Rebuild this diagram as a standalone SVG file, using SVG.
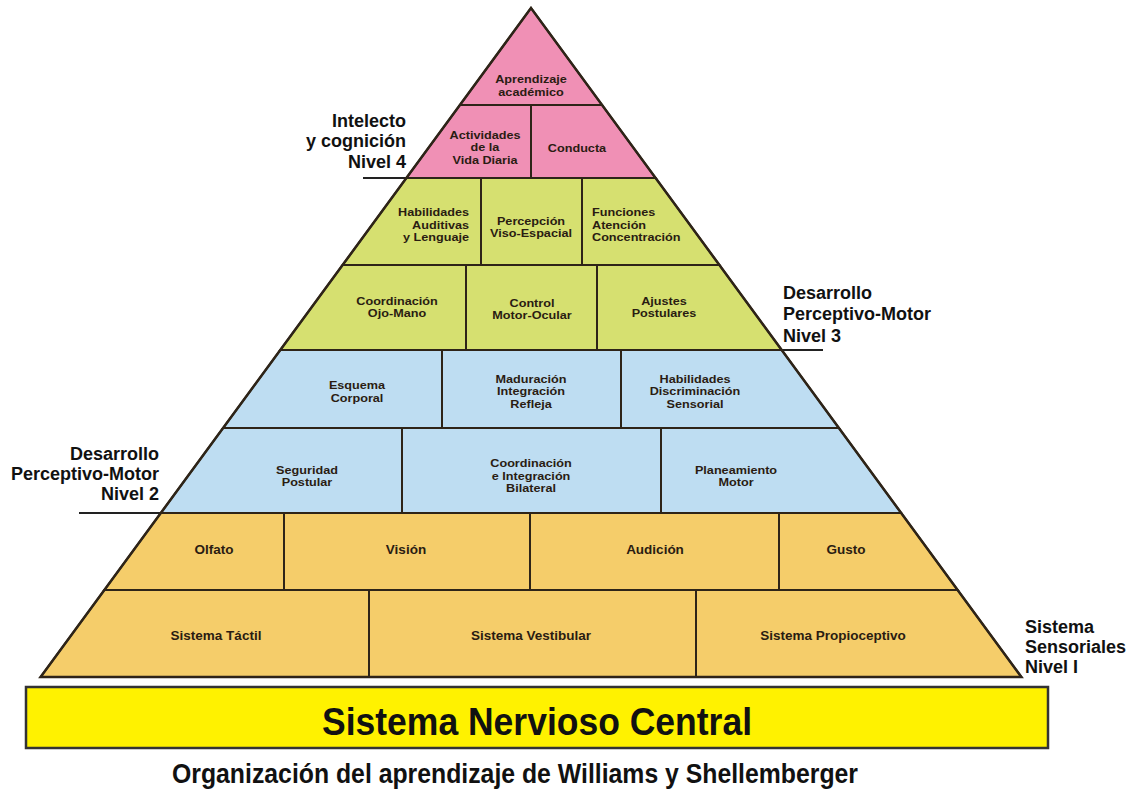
<svg xmlns="http://www.w3.org/2000/svg" width="1129" height="792" viewBox="0 0 1129 792">
<style>
.c{stroke:#2e2418;stroke-width:2;stroke-linejoin:miter}
.pk{fill:#F090B5}
.gr{fill:#D6E070}
.bl{fill:#BEDDF2}
.or{fill:#F5CD6A}
.t{font-family:"Liberation Sans",Arial,sans-serif;font-weight:bold;font-size:11px;fill:#2a1c12;text-anchor:middle}
.t1{font-size:12.5px}
.tb{font-size:13.5px}
.e{text-anchor:end}
.st{text-anchor:start}
.s{font-family:"Liberation Sans",Arial,sans-serif;font-weight:bold;font-size:18px;fill:#111}
.ul{stroke:#222;stroke-width:2}
</style>
<rect width="1129" height="792" fill="#ffffff"/>
<g id="connectors">
<line class="ul" x1="363" y1="178" x2="407" y2="178"/>
<line class="ul" x1="781" y1="350" x2="823" y2="350"/>
<line class="ul" x1="79" y1="513" x2="161" y2="513"/>
</g>
<g id="r1">
<polygon class="c pk" points="531,8 460,105 602,105"/>
<text class="t" transform="translate(531 0) scale(1.15 1)"><tspan x="0" y="83">Aprendizaje</tspan><tspan x="0" y="96">académico</tspan></text>
</g>
<g id="r2a">
<polygon class="c pk" points="460,105 531,105 531,178 406.4,178"/>
<text class="t" transform="translate(485 0) scale(1.15 1)"><tspan x="0" y="139">Actividades</tspan><tspan x="0" y="151.5">de la</tspan><tspan x="0" y="164">Vida Diaria</tspan></text>
</g>
<g id="r2b">
<polygon class="c pk" points="531,105 602,105 655.6,178 531,178"/>
<text class="t" transform="translate(577 0) scale(1.15 1)"><tspan x="0" y="152">Conducta</tspan></text>
</g>
<g id="r3a">
<polygon class="c gr" points="406.4,178 481,178 481,265 342.6,265"/>
<text class="t e" transform="translate(469 0) scale(1.15 1)"><tspan x="0" y="216.5">Habilidades</tspan><tspan x="0" y="229">Auditivas</tspan><tspan x="0" y="241.5">y Lenguaje</tspan></text>
</g>
<g id="r3b">
<rect class="c gr" x="481" y="178" width="101" height="87"/>
<text class="t" transform="translate(531 0) scale(1.15 1)"><tspan x="0" y="225">Percepción</tspan><tspan x="0" y="237.5">Viso-Espacial</tspan></text>
</g>
<g id="r3c">
<polygon class="c gr" points="582,178 655.6,178 719.4,265 582,265"/>
<text class="t st" transform="translate(592 0) scale(1.15 1)"><tspan x="0" y="216.5">Funciones</tspan><tspan x="0" y="229">Atención</tspan><tspan x="0" y="241.5">Concentración</tspan></text>
</g>
<g id="r4a">
<polygon class="c gr" points="342.6,265 466,265 466,350 280.3,350"/>
<text class="t" transform="translate(397 0) scale(1.15 1)"><tspan x="0" y="305">Coordinación</tspan><tspan x="0" y="317.5">Ojo-Mano</tspan></text>
</g>
<g id="r4b">
<rect class="c gr" x="466" y="265" width="131" height="85"/>
<text class="t" transform="translate(532 0) scale(1.15 1)"><tspan x="0" y="307">Control</tspan><tspan x="0" y="319.5">Motor-Ocular</tspan></text>
</g>
<g id="r4c">
<polygon class="c gr" points="597,265 719.4,265 781.7,350 597,350"/>
<text class="t" transform="translate(664 0) scale(1.15 1)"><tspan x="0" y="305">Ajustes</tspan><tspan x="0" y="317.5">Postulares</tspan></text>
</g>
<g id="r5a">
<polygon class="c bl" points="280.3,350 442,350 442,428 223.1,428"/>
<text class="t" transform="translate(357 0) scale(1.15 1)"><tspan x="0" y="389.5">Esquema</tspan><tspan x="0" y="402">Corporal</tspan></text>
</g>
<g id="r5b">
<rect class="c bl" x="442" y="350" width="179" height="78"/>
<text class="t" transform="translate(531 0) scale(1.15 1)"><tspan x="0" y="383">Maduración</tspan><tspan x="0" y="395.5">Integración</tspan><tspan x="0" y="408">Refleja</tspan></text>
</g>
<g id="r5c">
<polygon class="c bl" points="621,350 781.7,350 838.9,428 621,428"/>
<text class="t" transform="translate(695 0) scale(1.15 1)"><tspan x="0" y="383">Habilidades</tspan><tspan x="0" y="395.5">Discriminación</tspan><tspan x="0" y="408">Sensorial</tspan></text>
</g>
<g id="r6a">
<polygon class="c bl" points="223.1,428 402,428 402,513 160.8,513"/>
<text class="t" transform="translate(307 0) scale(1.15 1)"><tspan x="0" y="474">Seguridad</tspan><tspan x="0" y="486.5">Postular</tspan></text>
</g>
<g id="r6b">
<rect class="c bl" x="402" y="428" width="259" height="85"/>
<text class="t" transform="translate(531 0) scale(1.15 1)"><tspan x="0" y="467.5">Coordinación</tspan><tspan x="0" y="480">e Integración</tspan><tspan x="0" y="492.5">Bilateral</tspan></text>
</g>
<g id="r6c">
<polygon class="c bl" points="661,428 838.9,428 901.2,513 661,513"/>
<text class="t" transform="translate(736 0) scale(1.15 1)"><tspan x="0" y="474">Planeamiento</tspan><tspan x="0" y="486.5">Motor</tspan></text>
</g>
<g id="r7a">
<polygon class="c or" points="160.8,513 284,513 284,590 104.4,590"/>
<text class="t tb" x="214" y="554">Olfato</text>
</g>
<g id="r7b">
<rect class="c or" x="284" y="513" width="246" height="77"/>
<text class="t tb" x="406" y="554">Visión</text>
</g>
<g id="r7c">
<rect class="c or" x="530" y="513" width="249" height="77"/>
<text class="t tb" x="655" y="554">Audición</text>
</g>
<g id="r7d">
<polygon class="c or" points="779,513 901.2,513 957.6,590 779,590"/>
<text class="t tb" x="846" y="554">Gusto</text>
</g>
<g id="r8a">
<polygon class="c or" points="104.4,590 369,590 369,677 40.6,677"/>
<text class="t tb" x="216" y="640">Sistema Táctil</text>
</g>
<g id="r8b">
<rect class="c or" x="369" y="590" width="327" height="87"/>
<text class="t tb" x="531" y="640">Sistema Vestibular</text>
</g>
<g id="r8c">
<polygon class="c or" points="696,590 957.6,590 1021.4,677 696,677"/>
<text class="t tb" x="833" y="640">Sistema Propioceptivo</text>
</g>
<polygon points="531,8 40.6,677 1021.4,677" fill="none" stroke="#2e2418" stroke-width="2.5" stroke-linejoin="miter"/>
<g id="label-n4">
<text class="s" x="406" y="127" text-anchor="end">Intelecto</text>
<text class="s" x="406" y="147" text-anchor="end">y cognición</text>
<text class="s" x="406" y="168" text-anchor="end">Nivel 4</text>
</g>
<g id="label-n3">
<text class="s" x="783" y="299">Desarrollo</text>
<text class="s" x="783" y="320">Perceptivo-Motor</text>
<text class="s" x="783" y="342">Nivel 3</text>
</g>
<g id="label-n2">
<text class="s" x="159" y="460" text-anchor="end">Desarrollo</text>
<text class="s" x="159" y="480" text-anchor="end">Perceptivo-Motor</text>
<text class="s" x="159" y="500" text-anchor="end">Nivel 2</text>
</g>
<g id="label-n1">
<text class="s" x="1025" y="633">Sistema</text>
<text class="s" x="1025" y="653">Sensoriales</text>
<text class="s" x="1025" y="673">Nivel I</text>
</g>
<g id="snc">
<rect x="26" y="687" width="1022" height="61" fill="#FFF200" stroke="#333" stroke-width="2.5"/>
<text x="322" y="735" font-family="Liberation Sans, Arial, sans-serif" font-weight="bold" font-size="39" fill="#111" textLength="430" lengthAdjust="spacingAndGlyphs">Sistema Nervioso Central</text>
</g>
<g id="caption">
<text x="172" y="783" font-family="Liberation Sans, Arial, sans-serif" font-weight="bold" font-size="27" fill="#111" textLength="686" lengthAdjust="spacingAndGlyphs">Organización del aprendizaje de Williams y Shellemberger</text>
</g>
</svg>
